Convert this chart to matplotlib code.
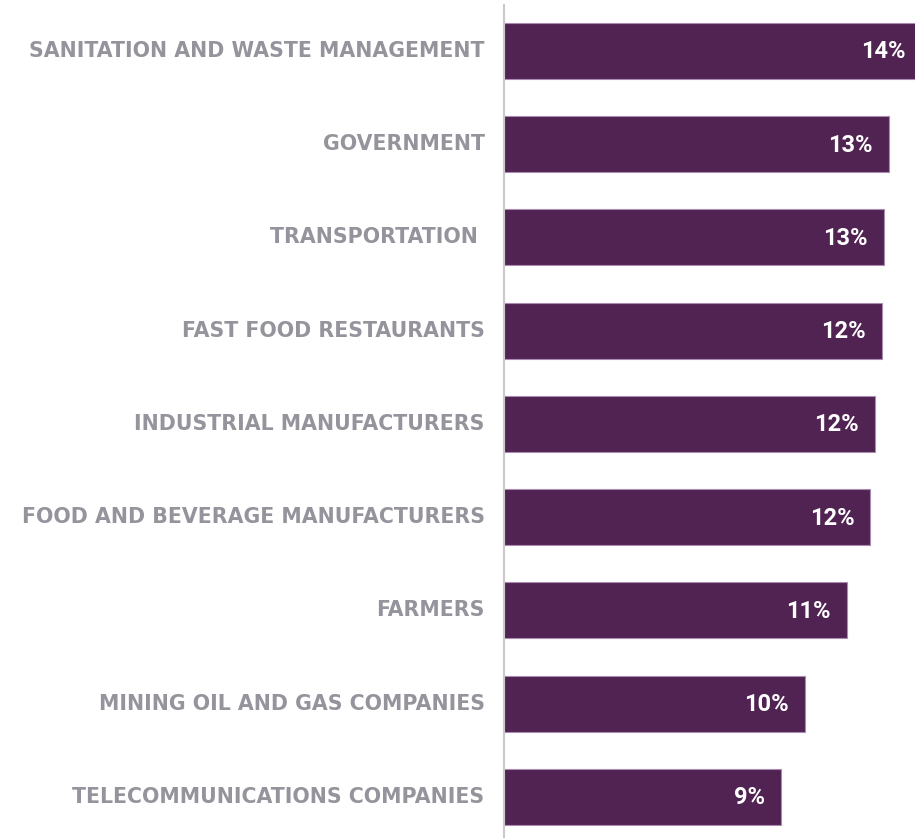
import matplotlib
matplotlib.use("Agg")
import matplotlib.pyplot as plt

categories = [
    "SANITATION AND WASTE MANAGEMENT",
    "GOVERNMENT",
    "TRANSPORTATION ",
    "FAST FOOD RESTAURANTS",
    "INDUSTRIAL MANUFACTURERS",
    "FOOD AND BEVERAGE MANUFACTURERS",
    "FARMERS",
    "MINING OIL AND GAS COMPANIES",
    "TELECOMMUNICATIONS COMPANIES",
]
values = [13.76, 12.66, 12.51, 12.43, 12.22, 12.06, 11.29, 9.91, 9.13]

BAR = "#512352"
EDGE = "#a98cb0"
LABEL = "#95949c"

W, H = 915, 838
fig = plt.figure(figsize=(W / 100, H / 100), dpi=100)
ax_left = 504 / W
ax = fig.add_axes([ax_left, 0, 1 - ax_left, (838 - 5) / H])

pos = list(range(len(categories)))
ax.barh(pos, values, height=0.60, color=BAR, edgecolor=EDGE, linewidth=0.8)

ax.set_xlim(0, 13.53)
ax.set_ylim(8.44, -0.493)

for y, v in zip(pos, values):
    ax.text(v - 0.53, y + 0.01, f"{round(v):.0f}%", ha="right", va="center",
            color="white", fontsize=17, fontweight="bold",
            family="Roboto", clip_on=False)

ax.set_yticks(pos)
ax.set_yticklabels(categories, fontsize=14.8, fontweight="bold",
                   color=LABEL, family="DejaVu Sans", va="center")
ax.tick_params(axis="y", length=0, pad=14)
ax.set_xticks([])

for s in ["top", "right", "bottom"]:
    ax.spines[s].set_visible(False)
ax.spines["left"].set_color("#c9c9c9")
ax.spines["left"].set_linewidth(1.5)

fig.savefig("out.png", dpi=100)
